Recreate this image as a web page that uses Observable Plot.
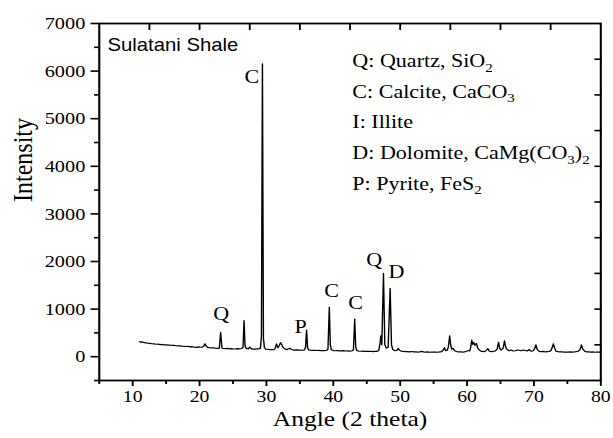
<!DOCTYPE html>
<html>
<head>
<meta charset="utf-8">
<script src="https://cdn.jsdelivr.net/npm/d3@7"></script>
<script src="https://cdn.jsdelivr.net/npm/@observablehq/plot@0.6"></script>
<style>
  html, body { margin: 0; padding: 0; background: #fff; }
  #chart { width: 613px; height: 438px; overflow: hidden; }
</style>
</head>
<body>
<div id="chart"></div>
<script>
const xrd = [
  [11.0,318],[11.2,305],[11.4,312],[11.6,298],[11.8,296],[12.0,290],[12.3,284],[12.6,279],[12.9,272],[13.2,268],
  [13.5,262],[13.8,265],[14.1,254],[14.4,257],[14.7,249],[15.0,251],[15.3,242],[15.6,245],[15.9,236],[16.2,238],
  [16.5,230],[16.8,226],[17.1,229],[17.4,220],[17.7,218],[18.0,214],[18.3,217],[18.6,207],[18.9,210],[19.2,200],
  [19.5,196],[19.8,205],[20.1,198],[20.4,202],[20.6,215],[20.8,270],[21.0,225],[21.2,196],[21.5,188],[21.8,184],
  [22.1,186],[22.4,178],[22.7,176],[22.95,180],[23.15,510],[23.35,178],[23.6,172],[23.9,170],[24.2,174],[24.5,166],
  [24.8,168],[25.1,162],[25.4,165],[25.7,170],[26.0,166],[26.3,172],[26.5,200],[26.65,756],[26.8,220],[27.0,175],
  [27.3,165],[27.5,200],[27.7,168],[28.0,160],[28.3,158],[28.6,163],[28.9,165],[29.1,180],[29.25,420],[29.4,6150],
  [29.55,380],[29.7,190],[29.9,160],[30.2,152],[30.5,150],[30.8,148],[31.1,150],[31.3,175],[31.5,270],[31.7,190],
  [31.9,230],[32.1,295],[32.3,250],[32.5,190],[32.8,160],[33.1,150],[33.4,175],[33.6,165],[33.9,145],[34.2,140],
  [34.5,142],[34.8,138],[35.1,140],[35.4,136],[35.7,145],[35.85,200],[36.0,560],[36.15,190],[36.3,145],[36.6,138],
  [36.9,134],[37.2,136],[37.5,130],[37.8,132],[38.1,128],[38.4,130],[38.7,126],[39.0,132],[39.2,160],[39.4,1036],
  [39.55,250],[39.7,150],[40.0,128],[40.3,125],[40.6,130],[40.9,124],[41.2,122],[41.5,128],[41.8,120],[42.1,122],
  [42.4,118],[42.7,120],[43.0,135],[43.2,792],[43.35,200],[43.5,130],[43.8,118],[44.1,115],[44.4,118],[44.7,112],
  [45.0,115],[45.3,110],[45.6,114],[45.9,108],[46.2,112],[46.5,110],[46.8,130],[47.0,300],[47.1,440],[47.25,250],
  [47.5,1750],[47.7,260],[47.9,180],[48.2,200],[48.5,1435],[48.7,250],[48.9,150],[49.2,125],[49.5,130],[49.7,175],
  [49.9,135],[50.2,115],[50.5,112],[50.8,105],[51.1,108],[51.4,102],[51.7,110],[52.0,100],[52.3,104],[52.6,98],
  [52.9,102],[53.2,112],[53.5,100],[53.8,96],[54.1,100],[54.4,94],[54.7,98],[55.0,95],[55.3,98],[55.6,94],
  [55.9,100],[56.2,108],[56.4,130],[56.6,190],[56.8,125],[57.0,130],[57.2,200],[57.4,440],[57.55,250],[57.7,160],
  [57.9,175],[58.1,130],[58.4,110],[58.7,100],[59.0,104],[59.3,98],[59.6,102],[59.9,115],[60.2,130],[60.4,120],
  [60.55,200],[60.7,350],[60.85,260],[61.0,300],[61.15,240],[61.4,280],[61.6,180],[61.9,130],[62.2,110],[62.5,108],
  [62.8,120],[63.1,170],[63.3,120],[63.6,105],[63.9,110],[64.2,120],[64.5,160],[64.7,300],[64.9,170],[65.1,140],
  [65.4,180],[65.6,335],[65.8,190],[66.0,150],[66.3,125],[66.6,140],[66.9,120],[67.2,125],[67.5,140],[67.8,135],
  [68.1,125],[68.4,140],[68.7,130],[69.0,120],[69.3,150],[69.6,115],[69.9,125],[70.1,170],[70.3,250],[70.5,150],
  [70.8,110],[71.1,105],[71.4,110],[71.7,100],[72.0,105],[72.3,110],[72.6,140],[72.9,270],[73.1,180],[73.3,115],
  [73.6,105],[73.9,100],[74.2,104],[74.5,96],[74.8,98],[75.1,95],[75.4,100],[75.7,98],[76.0,102],[76.3,108],
  [76.6,115],[76.9,150],[77.1,250],[77.3,160],[77.6,115],[77.9,100],[78.2,102],[78.5,96],[78.8,100],[79.1,94],
  [79.4,98],[79.7,95],[80.0,96]
];

const peakLabels = ["Q", "C", "P", "C", "C", "Q", "D"];
const peakLabelAngle = [23.25, 27.8, 35.1, 39.75, 43.35, 46.1, 49.45];
const peakLabelIntensity = [895, 5880, 620, 1390, 1135, 2040, 1790];

const sampleName = "Sulatani Shale";
const legendLines = [
  "Q: Quartz, SiO_2",
  "C: Calcite, CaCO_3",
  "I: Illite",
  "D: Dolomite, CaMg(CO_3)_2",
  "P: Pyrite, FeS_2"
];

const xTicks = [10, 20, 30, 40, 50, 60, 70, 80];
const xMinorTicks = [5, 15, 25, 35, 45, 55, 65, 75];
const xTopTicks = [12.5, 20, 27.5, 35, 42.5, 50, 57.5, 65, 72.5];
const yTicks = [0, 1000, 2000, 3000, 4000, 5000, 6000, 7000];
const yMinorTicks = [-500, 500, 1500, 2500, 3500, 4500, 5500, 6500];
const yRightTicks = [250, 1000, 1750, 2500, 3250, 4000, 4750, 5500, 6250];
const xLabel = "Angle (2 theta)";
const yLabel = "Intensity";

// ---- chart ----
const W = 528, H = 438;           // drawn narrower, then stretched horizontally to 613 like the reference
const serif = "'Liberation Serif', 'Times New Roman', Times, serif";
const pts = xrd.map(([a, v]) => ({angle: a, intensity: v}));
const plain = d => String(d);

const svg = Plot.plot({
  width: W,
  height: H,
  marginLeft: 85,
  marginRight: 11,
  marginTop: 23,
  marginBottom: 58,
  style: {fontFamily: serif, fontSize: "17.5px", color: "#000", background: "#fff", overflow: "visible"},
  x: {domain: [5, 80]},
  y: {domain: [-500, 7000]},
  marks: [
    Plot.line(pts, {x: "angle", y: "intensity", stroke: "#000", strokeWidth: 1.2, curve: "linear"}),
    Plot.frame({stroke: "#000", strokeWidth: 1.8}),
    // left axis
    Plot.axisY({ticks: yTicks, anchor: "left", tickSize: 7, tickPadding: 5, tickFormat: plain, strokeWidth: 1.6,
      fontFamily: serif, fontSize: 17.5, fill: "#000", label: null}),
    Plot.axisY({ticks: yMinorTicks, anchor: "left", tickSize: 4, strokeWidth: 1.6, fill: "none", label: null}),
    // right mirror (inward)
    Plot.axisY({ticks: yRightTicks, anchor: "right", tickSize: 6, dx: -6, strokeWidth: 1.6, fill: "none", label: null}),
    // bottom axis
    Plot.axisX({ticks: xTicks, anchor: "bottom", tickSize: 6, tickPadding: 3, tickFormat: plain, strokeWidth: 1.6,
      fontFamily: serif, fontSize: 17, fill: "#000", label: null}),
    Plot.axisX({ticks: xMinorTicks, anchor: "bottom", tickSize: 4, strokeWidth: 1.6, fill: "none", label: null}),
    // top mirror (inward)
    Plot.axisX({ticks: xTopTicks, anchor: "top", tickSize: 6, dy: 6, strokeWidth: 1.6, fill: "none", label: null}),
    // axis titles
    Plot.text([xLabel], {frameAnchor: "bottom", dy: 45.5, fontSize: 22, fontFamily: serif, fill: "#000"}),
    Plot.text([yLabel], {frameAnchor: "left", dx: -66, rotate: -90, fontSize: 24, fontFamily: serif, fill: "#000"}),
    // sample name
    Plot.text([sampleName], {frameAnchor: "top-left", dx: 7, dy: 15, lineAnchor: "top", textAnchor: "start",
      fontSize: 17.5, fontFamily: "'Liberation Sans', Arial, sans-serif", fill: "#000"}),
    // legend
    Plot.text([legendLines.join("\n")], {frameAnchor: "top-left", dx: 218, dy: 22, lineAnchor: "top", textAnchor: "start",
      lineHeight: 1.61, fontSize: 19, fontFamily: serif, fill: "#000"}),
    // peak labels
    Plot.text(peakLabels.map((t, i) => ({t, a: peakLabelAngle[i], v: peakLabelIntensity[i]})),
      {x: "a", y: "v", text: "t", fontSize: 19, fontFamily: serif, fill: "#000"})
  ]
});

// make sure tick labels use the serif face
svg.querySelectorAll('[aria-label$="tick label"]').forEach(g => g.setAttribute("font-family", serif));

// subscripts: "_n" -> subscript tspan
svg.querySelectorAll("text, tspan").forEach(el => {
  if (el.children.length) return;
  const t = el.textContent;
  if (!t.includes("_")) return;
  const s = d3.select(el);
  s.text(null);
  t.split(/(_\d)/).filter(p => p.length).forEach(p => {
    if (p.startsWith("_")) s.append("tspan").attr("baseline-shift", "-0.38em").attr("font-size", "68%").text(p.slice(1));
    else s.append("tspan").text(p);
  });
});

// horizontal stretch to match the reference proportions
svg.setAttribute("width", 613);
svg.setAttribute("height", H);
svg.setAttribute("viewBox", `0 0 ${W} ${H}`);
svg.setAttribute("preserveAspectRatio", "none");
svg.style.maxWidth = "none";
document.getElementById("chart").appendChild(svg);
</script>
</body>
</html>
